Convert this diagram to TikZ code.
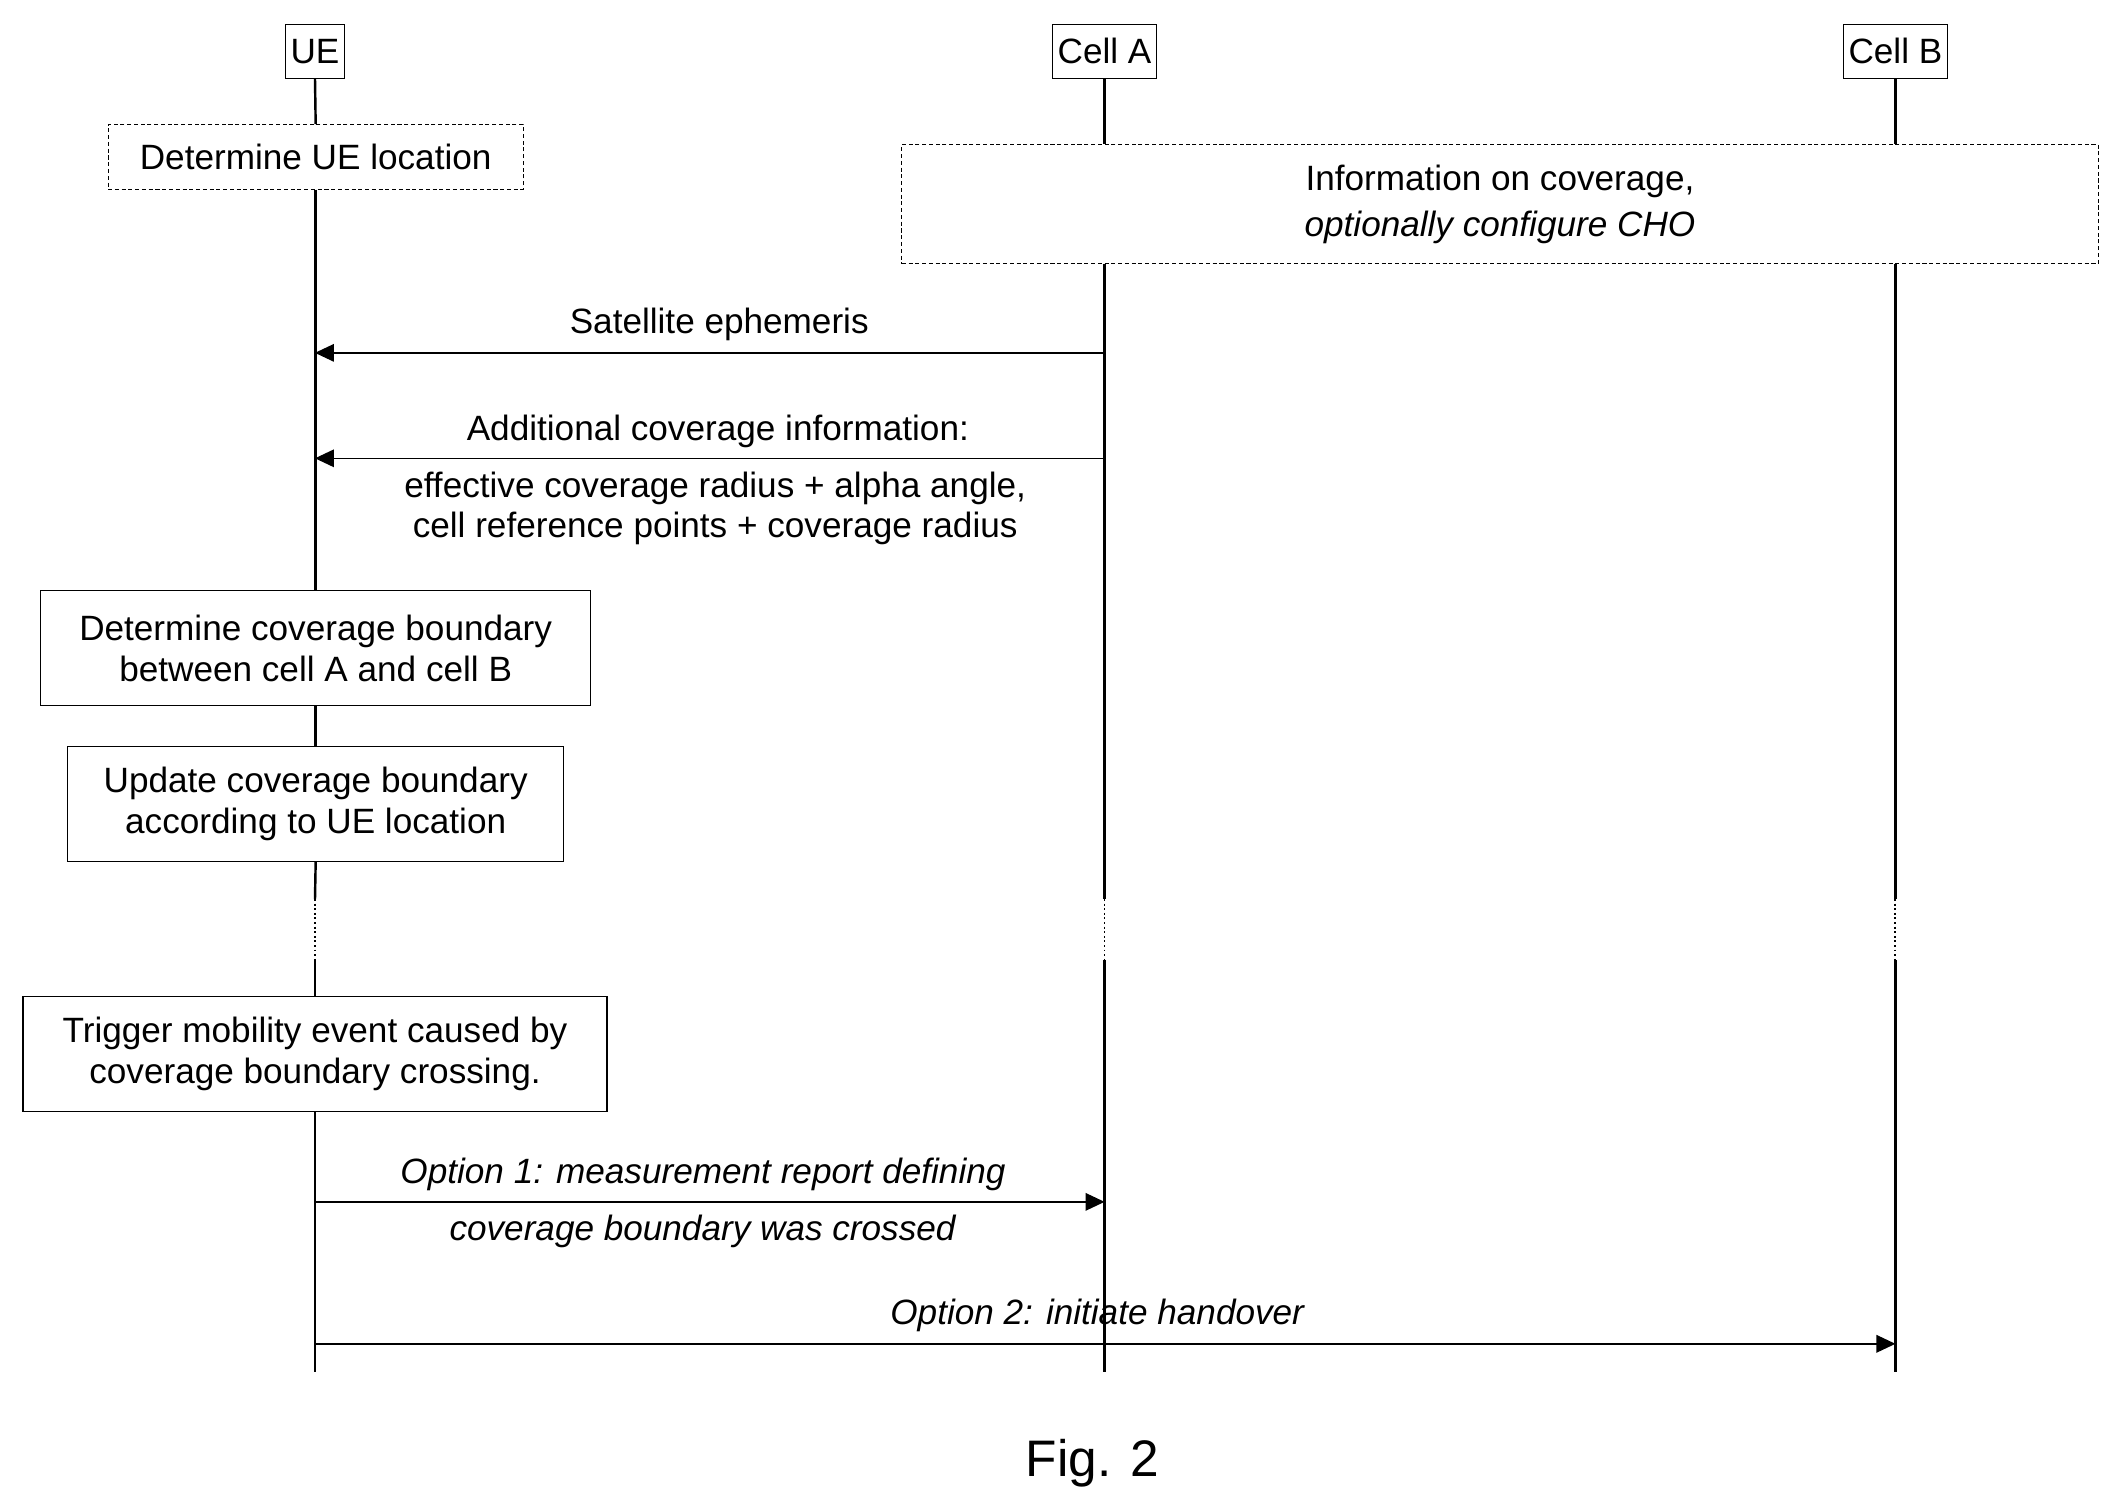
\documentclass[tikz,border=0pt]{standalone}
\usepackage{fontspec}
\setmainfont{Liberation Sans}
\usetikzlibrary{arrows.meta}
\begin{document}
\begin{tikzpicture}[x=1pt,y=-1pt,
  every node/.style={font=\fontsize{26}{30}\selectfont},
  hdr/.style={draw,thick,inner sep=4pt,minimum height=40pt},
  dbox/.style={draw,densely dashed,thin,align=center},
  sbox/.style={draw,thick,align=center},
  life/.style={line width=1.8pt},
  dots/.style={line width=1.4pt,dotted},
  msg/.style={line width=1pt,-{Triangle[length=14pt,width=13pt]}}]
\useasboundingbox (0,0) rectangle (1560,1116);
\node[hdr] (ue) at (233,38) {UE};
\node[hdr] (ca) at (817,38) {Cell A};
\node[hdr] (cb) at (1402,38) {Cell B};
\node[dbox,minimum width=307pt,minimum height=48pt] (loc) at (233.5,116) {Determine UE location};
\node[dbox,minimum width=885pt,minimum height=88pt] (info) at (1109.5,151) {Information on coverage,\\[4pt] \textit{optionally configure CHO}};
\node[sbox,minimum width=407pt,minimum height=85pt] (det) at (233.5,479.5) {Determine coverage boundary\\between cell A and cell B};
\node[sbox,minimum width=367pt,minimum height=85pt] (upd) at (233.5,594.5) {Update coverage boundary\\according to UE location};
\node[sbox,minimum width=432pt,minimum height=85pt] (trg) at (233,779.5) {Trigger mobility event caused by\\coverage boundary crossing.};
\foreach \n/\x in {u/233,a/817,b/1402}{
  \coordinate (\n1) at (\x,665); \coordinate (\n2) at (\x,710); \coordinate (\n3) at (\x,1015);}
\coordinate (ua) at (233,261); \coordinate (aa) at (817,261);
\coordinate (ub) at (233,339); \coordinate (ab) at (817,339);
\coordinate (uc) at (233,889); \coordinate (ac) at (817,889);
\coordinate (ud) at (233,994); \coordinate (bd) at (1402,994);
\draw[life] (ue.south) -- (loc.north);
\draw[life] (loc.south) -- (det.north);
\draw[life] (det.south) -- (upd.north);
\draw[life] (upd.south) -- (u1);
\draw[dots] (u1) -- (u2);
\draw[life] (u2) -- (trg.north);
\draw[life] (trg.south) -- (u3);
\draw[life] (ca.south) -- (ca.south |- info.north);
\draw[life] (ca.south |- info.south) -- (a1);
\draw[dots] (a1) -- (a2);
\draw[life] (a2) -- (a3);
\draw[life] (cb.south) -- (cb.south |- info.north);
\draw[life] (cb.south |- info.south) -- (b1);
\draw[dots] (b1) -- (b2);
\draw[life] (b2) -- (b3);
\draw[msg] (aa) -- (ua);
\node (l1) at (532,240) {Satellite ephemeris};
\draw[msg] (ab) -- (ub);
\node (l2) at (531,319) {Additional coverage information:};
\node[align=center] (l3) at (529,376) {effective coverage radius + alpha angle,\\cell reference points + coverage radius};
\draw[msg] (uc) -- (ac);
\node (l4) at (520,869) {\textit{Option 1: measurement report defining}};
\node (l5) at (520,911) {\textit{coverage boundary was crossed}};
\draw[msg] (ud) -- (bd);
\node (l6) at (812,973) {\textit{Option 2: initiate handover}};
\node[font=\fontsize{38}{44}\selectfont] (fig) at (808,1082) {Fig. 2};
\end{tikzpicture}
\end{document}
